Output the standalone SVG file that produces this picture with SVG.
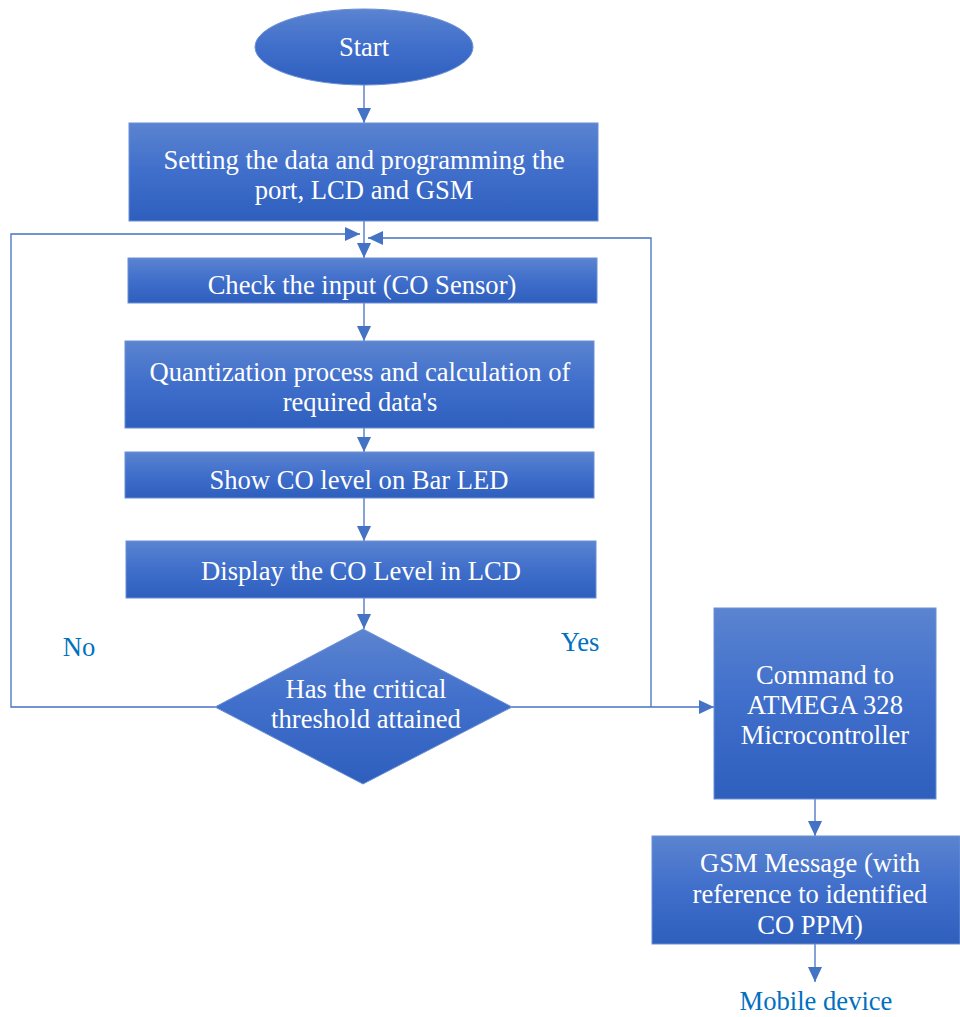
<svg xmlns="http://www.w3.org/2000/svg" width="960" height="1017" viewBox="0 0 960 1017">
<defs>
<linearGradient id="g" x1="0" y1="0" x2="0" y2="1">
<stop offset="0" stop-color="#5B84D0"/>
<stop offset="0.5" stop-color="#3F6ECB"/>
<stop offset="1" stop-color="#2F5FBD"/>
</linearGradient>
<marker id="a" markerWidth="15" markerHeight="14" refX="15" refY="7" orient="auto" markerUnits="userSpaceOnUse">
<path d="M0,0 L15,7 L0,14 Z" fill="#4472C4"/>
</marker>
<style>
.n{fill:url(#g);stroke:#6A8FD6;stroke-width:1}
.t{fill:#fff;text-anchor:middle}
.l{fill:#0070C0;text-anchor:middle}
.c{fill:none;stroke:#4472C4;stroke-width:1.3}
</style>
</defs>
<rect width="960" height="1017" fill="#fff"/>
<g id="connectors">
<line class="c" x1="364" y1="85" x2="364" y2="123" marker-end="url(#a)"/>
<line class="c" x1="364" y1="221" x2="364" y2="258" marker-end="url(#a)"/>
<polyline class="c" points="215,707 11,707 11,234 360,234" marker-end="url(#a)"/>
<polyline class="c" points="651,707 651,238 368,238" marker-end="url(#a)"/>
<line class="c" x1="364" y1="303" x2="364" y2="341" marker-end="url(#a)"/>
<line class="c" x1="364" y1="428" x2="364" y2="452" marker-end="url(#a)"/>
<line class="c" x1="364" y1="498" x2="364" y2="541" marker-end="url(#a)"/>
<line class="c" x1="364" y1="598" x2="364" y2="629" marker-end="url(#a)"/>
<line class="c" x1="512" y1="707" x2="714" y2="707" marker-end="url(#a)"/>
<line class="c" x1="815" y1="799" x2="815" y2="836" marker-end="url(#a)"/>
<line class="c" x1="815" y1="944" x2="815" y2="982" marker-end="url(#a)"/>
</g>
<g font-family="'Liberation Serif', 'Times New Roman', serif" font-size="26.6">
<g id="start"><ellipse class="n" cx="364" cy="47" rx="109" ry="38"/><text class="t" x="364" y="56">Start</text></g>
<g id="setup"><rect class="n" x="129" y="123" width="469" height="98"/><text class="t" x="364" y="169">Setting the data and programming the</text><text class="t" x="364" y="199">port, LCD and GSM</text></g>
<g id="check"><rect class="n" x="128" y="258" width="469" height="45"/><text class="t" x="362" y="294">Check the input (CO Sensor)</text></g>
<g id="quant"><rect class="n" x="125" y="341" width="469" height="87"/><text class="t" x="360" y="381">Quantization process and calculation of</text><text class="t" x="360" y="411">required data's</text></g>
<g id="bar"><rect class="n" x="125" y="452" width="469" height="46"/><text class="t" x="359" y="489">Show CO level on Bar LED</text></g>
<g id="lcd"><rect class="n" x="126" y="541" width="470" height="57"/><text class="t" x="361" y="580">Display the CO Level in LCD</text></g>
<g id="decision"><polygon class="n" points="363,629 512,707 363,784 215,707"/><text class="t" x="366" y="698">Has the critical</text><text class="t" x="366" y="728">threshold attained</text></g>
<g id="command"><rect class="n" x="714" y="608" width="222" height="191"/><text class="t" x="825" y="684">Command to</text><text class="t" x="825" y="714">ATMEGA 328</text><text class="t" x="825" y="744">Microcontroller</text></g>
<g id="gsm"><rect class="n" x="652" y="836" width="308" height="108"/><text class="t" x="810" y="872">GSM Message (with</text><text class="t" x="810" y="903">reference to identified</text><text class="t" x="810" y="934">CO PPM)</text></g>
<g id="labels">
<text class="l" x="79" y="656">No</text>
<text class="l" x="580" y="651">Yes</text>
<text class="l" x="816" y="1010">Mobile device</text>
</g>
</g>
</svg>
